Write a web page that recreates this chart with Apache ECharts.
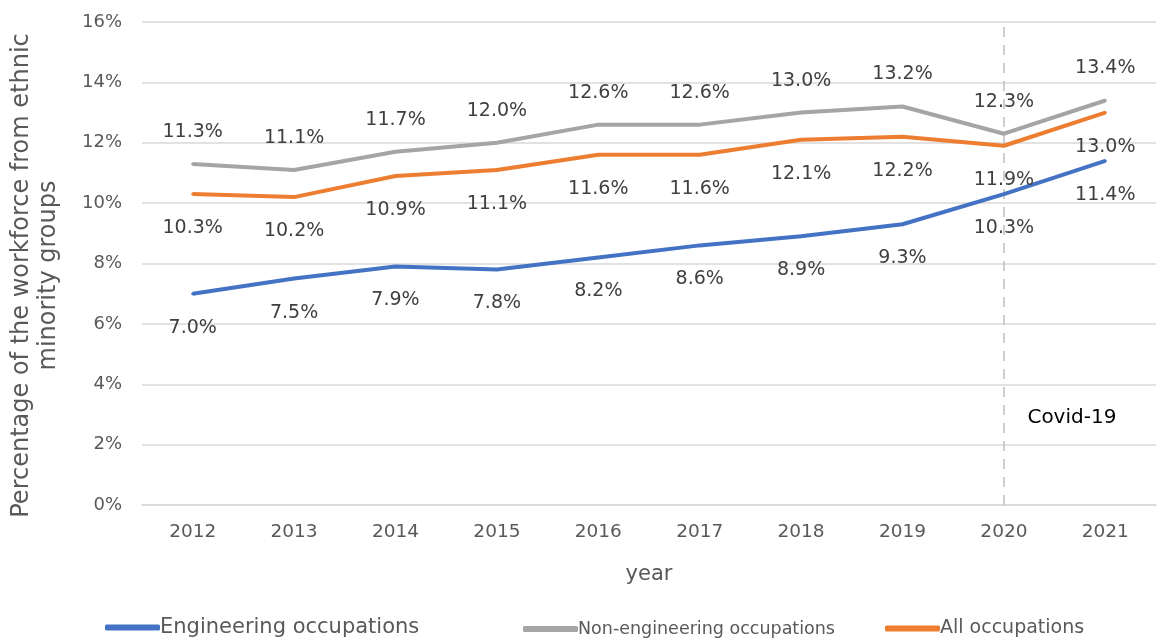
<!DOCTYPE html>
<html>
<head>
<meta charset="utf-8">
<script src="https://cdn.jsdelivr.net/npm/echarts@6/dist/echarts.min.js"></script>
<style>
  html, body { margin: 0; padding: 0; background: #fff; }
  #chart { width: 1160px; height: 643px; }
</style>
</head>
<body>
<div id="chart"></div>
<script>
const years = ['2012', '2013', '2014', '2015', '2016', '2017', '2018', '2019', '2020', '2021'];
const engineering = [7.0, 7.5, 7.9, 7.8, 8.2, 8.6, 8.9, 9.3, 10.3, 11.4];
const nonEngineering = [11.3, 11.1, 11.7, 12.0, 12.6, 12.6, 13.0, 13.2, 12.3, 13.4];
const allOccupations = [10.3, 10.2, 10.9, 11.1, 11.6, 11.6, 12.1, 12.2, 11.9, 13.0];
const yTicks = [0, 2, 4, 6, 8, 10, 12, 14, 16];
const covidYear = '2020';

const FONT = 'DejaVu Sans';
const pct = (v) => `${Number(v).toFixed(1)}%`;

const chart = echarts.init(document.getElementById('chart'));

// small symbols in the line colour, hidden under the line, so the labels render
const lineSeries = (name, data, color, pos, extra) => Object.assign({
  name,
  type: 'line',
  data,
  color,
  symbol: 'circle',
  symbolSize: 3,
  showSymbol: true,
  itemStyle: { color },
  lineStyle: { width: 4, color },
  label: {
    show: true,
    position: pos,
    distance: pos === 'top' ? 21 : 23,
    formatter: (p) => pct(p.value),
    color: '#404040',
    fontFamily: FONT,
    fontSize: 19,
  },
  z: 3,
}, extra || {});

const legendItem = (name, left, fontSize) => ({
  left,
  bottom: 0,
  data: [name],
  itemWidth: 55,
  itemHeight: 6,
  icon: 'roundRect',
  textStyle: { color: '#595959', fontFamily: FONT, fontSize, padding: [0, 0, 0, -5] },
});

chart.setOption({
  animation: false,
  backgroundColor: '#fff',
  grid: { left: 139, right: 4, top: 22, bottom: 138 },
  legend: [
    legendItem('Engineering occupations', 100, 21),
    legendItem('Non-engineering occupations', 518, 17.5),
    legendItem('All occupations', 880, 19),
  ],
  xAxis: {
    type: 'category',
    data: years,
    boundaryGap: true,
    name: 'year',
    nameLocation: 'middle',
    nameGap: 59,
    nameTextStyle: { color: '#595959', fontFamily: FONT, fontSize: 21 },
    axisLine: { lineStyle: { color: '#d9d9d9', width: 1.5 } },
    axisTick: { show: false },
    axisLabel: { color: '#595959', fontFamily: FONT, fontSize: 18.5, margin: 18 },
  },
  yAxis: {
    type: 'value',
    min: yTicks[0],
    max: yTicks[yTicks.length - 1],
    interval: 2,
    name: 'Percentage of the workforce from ethnic\nminority groups',
    nameLocation: 'middle',
    nameGap: 80,
    nameRotate: 90,
    nameTextStyle: { color: '#595959', fontFamily: FONT, fontSize: 24, lineHeight: 27, padding: [0, 24, 0, 0] },
    axisLine: { show: false },
    axisTick: { show: false },
    axisLabel: { color: '#595959', fontFamily: FONT, fontSize: 18, margin: 20, formatter: (v) => `${v}%` },
    splitLine: { lineStyle: { color: '#d9d9d9', width: 1.5 } },
  },
  series: [
    lineSeries('Engineering occupations', engineering, '#4472C4', 'bottom', {
      markLine: {
        silent: true,
        symbol: 'none',
        lineStyle: { type: [10, 8], color: '#bfbfbf', width: 1.5 },
        label: { show: false },
        data: [{ xAxis: covidYear }],
        z: 1,
      },
      markPoint: {
        silent: true,
        symbol: 'circle',
        symbolSize: 0,
        itemStyle: { color: 'transparent' },
        data: [{ coord: [covidYear, 2.9] }],
        label: {
          show: true,
          position: 'inside',
          formatter: 'Covid-19',
          offset: [68, 0],
          color: '#000',
          fontFamily: FONT,
          fontSize: 20,
        },
      },
    }),
    lineSeries('Non-engineering occupations', nonEngineering, '#A5A5A5', 'top'),
    lineSeries('All occupations', allOccupations, '#ED7D31', 'bottom'),
  ],
});
</script>
</body>
</html>
